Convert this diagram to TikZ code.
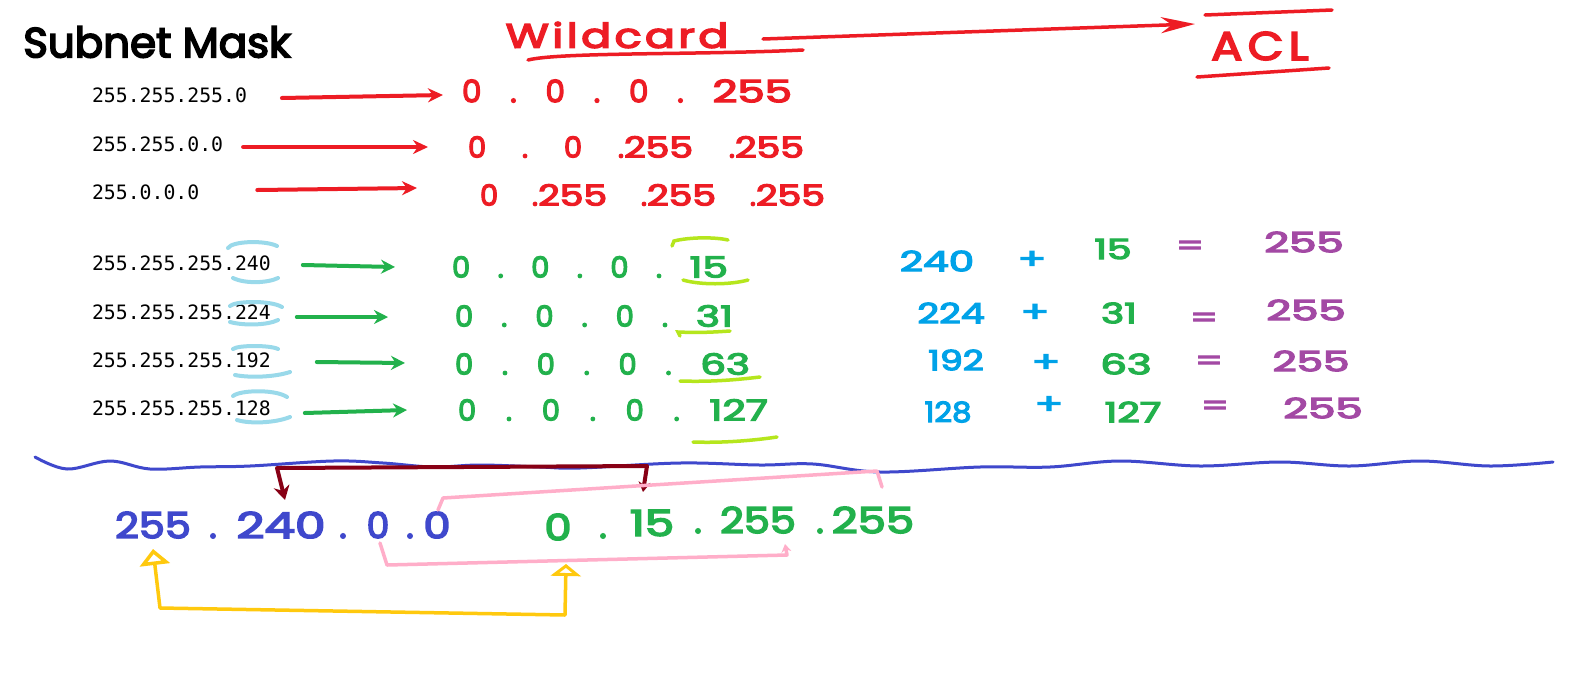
\documentclass[tikz,border=0pt]{standalone}
\usepackage{fontspec}
\usepackage{graphicx}
\newfontfamily\hand{Poppins}[FakeBold=4]
\newfontfamily\monof{DejaVu Sans Mono}
\usetikzlibrary{arrows.meta,calc}
\definecolor{pred}{HTML}{ED1C24}
\definecolor{pgreen}{HTML}{22B14C}
\definecolor{plime}{HTML}{B5E61D}
\definecolor{plblue}{HTML}{99D9EA}
\definecolor{pblue}{HTML}{00A2E8}
\definecolor{ppurple}{HTML}{A349A4}
\definecolor{pindigo}{HTML}{3F48CC}
\definecolor{pdred}{HTML}{880015}
\definecolor{ppink}{HTML}{FFAEC9}
\definecolor{pyellow}{HTML}{FFC90E}
\newcommand\hf[1]{\hand\fontsize{#1}{#1}\selectfont\frenchspacing}
\newcommand\hx[2]{\scalebox{#1}[1]{#2}}
\newcommand\spr[2]{\makebox[#1][s]{#2}}
\frenchspacing
\begin{document}
\begin{tikzpicture}[x=1pt,y=-1pt,
  every node/.style={inner sep=0pt,outer sep=0pt},
  mask/.style={anchor=west,text=black,font=\monof\fontsize{19.8}{20}\selectfont},
  hw/.style={font=\hf{#1}},
  row/.style={anchor=west},
  redarr/.style={draw=pred,line width=4pt,line cap=round,-{Stealth[length=15pt,width=14pt]}},
  grnarr/.style={draw=pgreen,line width=4pt,line cap=round,-{Stealth[length=14pt,width=14pt]}},
  redline/.style={draw=pred,line width=3.5pt,line cap=round},
  lbr/.style={draw=plblue,line width=4pt,line cap=round},
  lime/.style={draw=plime,line width=3.5pt,line cap=round},
  pinkl/.style={draw=ppink,line width=3.5pt,line cap=round,line join=round},
  eb/.style={hw=28,text=pblue},
  eg/.style={hw=28,text=pgreen},
  ep/.style={hw=28,text=ppurple}
]
\fill[white] (0,0) rectangle (1594,694);
\useasboundingbox (0,0) rectangle (1594,694);

% titles
\node[hw=42,text=black] (sm) at (157,42) {Subnet Mask};
\node[hw=34,text=pred] (wc) at (617,35) {\hx{1.3}{\addfontfeature{LetterSpace=8}Wildcard}};
\node[hw=40,text=pred] (acl) at (1260,46) {\hx{1.15}{\addfontfeature{LetterSpace=12}ACL}};
\draw[redline] (528,60) .. controls (560,52) and (700,55) .. (803,50);
\draw[draw=pred,line width=3.5pt,line cap=round,-{Stealth[length=34pt,width=16pt]}] ($(wc.center)+(146,4)$) -- ($(acl.center)+(-65,-22)$);
\draw[redline] (1205,15) -- (1332,10);
\draw[redline] (1197,77) -- (1329,68);

% masks
\node[mask] (m1) at (92,95) {255.255.255.0};
\node[mask] (m2) at (92,144) {255.255.0.0};
\node[mask] (m3) at (92,192) {255.0.0.0};
\node[mask] (m4) at (92,263) {255.255.255.240};
\node[mask] (m5) at (92,312) {255.255.255.224};
\node[mask] (m6) at (92,360) {255.255.255.192};
\node[mask] (m7) at (92,408) {255.255.255.128};

% wildcard rows (red)
\node[row,hw=31,text=pred] (w1) at (462,91) {\spr{330pt}{0 . 0 . 0 . \hx{1.4}{255}}};
\node[row,hw=29,text=pred] (w2) at (468,147) {\spr{336pt}{0 . 0 .\hx{1.3}{255} .\hx{1.3}{255}}};
\node[row,hw=29,text=pred] (w3) at (480,195) {\spr{345pt}{0 .\hx{1.3}{255} .\hx{1.3}{255} .\hx{1.3}{255}}};

% wildcard rows (green)
\node[row,hw=29,text=pgreen] (g4) at (452,267) {\spr{276pt}{0 . 0 . 0 . \hx{1.4}{15}}};
\node[row,hw=29,text=pgreen] (g5) at (455,316) {\spr{278pt}{0 . 0 . 0 . \hx{1.4}{31}}};
\node[row,hw=29,text=pgreen] (g6) at (455,364) {\spr{295pt}{0 . 0 . 0 . \hx{1.4}{63}}};
\node[row,hw=29,text=pgreen] (g7) at (458,410) {\spr{310pt}{0 . 0 . 0 . \hx{1.4}{127}}};

% arrows
\draw[redarr] ($(m1.east)+(35,3)$) -- ($(w1.west)+(-19,4)$);
\draw[redarr] ($(m2.east)+(20,3)$) -- ($(w2.west)+(-40,0)$);
\draw[redarr] ($(m3.east)+(58,-2)$) -- ($(w3.west)+(-63,-7)$);
\draw[grnarr] ($(m4.east)+(32,2)$) -- ($(g4.west)+(-57,0)$);
\draw[grnarr] ($(m5.east)+(26,5)$) -- ($(g5.west)+(-67,1)$);
\draw[grnarr] ($(m6.east)+(46,2)$) -- ($(g6.west)+(-50,-1)$);
\draw[grnarr] ($(m7.east)+(34,5)$) -- ($(g7.west)+(-51,0)$);

% light blue brackets
\draw[lbr] (228,248) .. controls (232,241) and (265,240) .. (277,246);
\draw[lbr] (233,278) .. controls (245,284) and (268,283) .. (278,278);
\draw[lbr] (230,306) .. controls (235,301) and (270,300) .. (282,307);
\draw[lbr] (230,322) .. controls (245,326) and (268,325) .. (278,320);
\draw[lbr] (233,349) .. controls (238,345) and (270,345) .. (278,349);
\draw[lbr] (235,375) .. controls (250,378) and (275,377) .. (290,372);
\draw[lbr] (233,396) .. controls (240,390) and (275,389) .. (287,397);
\draw[lbr] (237,420) .. controls (250,424) and (275,423) .. (290,417);

% lime brackets
\draw[lime] (672,246) -- (674,241) .. controls (690,237) and (715,237) .. (728,240);
\draw[lime] (683,280) .. controls (700,285) and (730,285) .. (748,280);
\draw[lime] (680,336) -- (678,332) .. controls (700,333) and (715,332) .. (730,331);
\draw[lime] (680,381) .. controls (710,382) and (735,380) .. (760,377);
\draw[lime] (693,442) .. controls (720,443) and (750,441) .. (777,437);

% equations
\node[eb] (e240) at (937,261) {\hx{1.45}{240}};
\node[eb] (p4) at (1032,260) {\hx{1.5}{+}};
\node[eg] (e15) at (1113,249) {\hx{1.4}{15}};
\node[ep] (q4) at (1190,248) {\hx{1.4}{=}};
\node[ep] (s4) at (1304,242) {\hx{1.55}{255}};

\node[eb] (e224) at (951,313) {\hx{1.35}{224}};
\node[eb] (p5) at (1035,313) {\hx{1.5}{+}};
\node[eg] (e31) at (1119,313) {\hx{1.4}{31}};
\node[ep] (q5) at (1204,320) {\hx{1.4}{=}};
\node[ep] (s5) at (1306,310) {\hx{1.55}{255}};

\node[eb] (e192) at (956,360) {\hx{1.3}{192}};
\node[eb] (p6) at (1046,363) {\hx{1.5}{+}};
\node[eg] (e63) at (1126,364) {\hx{1.5}{63}};
\node[ep] (q6) at (1209,363) {\hx{1.4}{=}};
\node[ep] (s6) at (1311,361) {\hx{1.5}{255}};

\node[eb] (e128) at (948,412) {\hx{1.1}{128}};
\node[eb] (p7) at (1049,405) {\hx{1.5}{+}};
\node[eg] (e127) at (1133,412) {\hx{1.4}{127}};
\node[ep] (q7) at (1215,408) {\hx{1.4}{=}};
\node[ep] (s7) at (1323,408) {\hx{1.55}{255}};

% wavy separator
\draw[pindigo,line width=3pt,line cap=round] plot[smooth,tension=0.6] coordinates {
 (35,457) (67,469) (110,461) (150,469) (200,467) (250,466) (333,461) (383,463)
 (433,467) (480,465) (540,467) (580,468) (680,463) (760,465) (813,464) (880,472)
 (980,467) (1050,467) (1120,461) (1200,466) (1280,462) (1350,466) (1420,461)
 (1490,466) (1553,462)};

% bottom blue
\node[hw=36,text=pindigo] (b255) at (153,525) {\hx{1.15}{255}};
\node[hw=36,text=pindigo,anchor=base] (bd1) at (213,538) {.};
\node[hw=36,text=pindigo] (b240) at (281,525) {\hx{1.35}{240}};
\node[hw=36,text=pindigo,anchor=base] (bd2) at (343,538) {.};
\node[hw=36,text=pindigo] (b0a) at (378,525) {0};
\node[hw=36,text=pindigo,anchor=base] (bd3) at (410,538) {.};
\node[hw=36,text=pindigo] (b0b) at (437,525) {\hx{1.2}{0}};

% bottom green
\node[hw=36,text=pgreen] (g0) at (558,527) {\hx{1.2}{0}};
\node[hw=36,text=pgreen,anchor=base] (gd1) at (603,538) {.};
\node[hw=36,text=pgreen] (g15) at (652,523) {\hx{1.3}{15}};
\node[hw=36,text=pgreen,anchor=base] (gd2) at (698,533) {.};
\node[hw=36,text=pgreen] (g255a) at (758,520) {\hx{1.15}{255}};
\node[hw=36,text=pgreen,anchor=base] (gd3) at (820,533) {.};
\node[hw=36,text=pgreen] (g255b) at (873,520) {\hx{1.25}{255}};

% connectors at the bottom
\draw[draw=pdred,line width=4pt,line join=round,{Stealth[length=14pt,width=16pt]}-{Stealth[length=10pt,width=12pt]}]
  ($(b240.center)+(4,-25)$) -- ($(b240.center)+(-4,-57)$) -- ($(g15.center)+(-5,-57)$) -- ($(g15.center)+(-9,-31)$);
\draw[pinkl] ($(b0b.center)+(1,-15)$) -- ($(b0b.center)+(6,-27)$) -- ($(g255b.center)+(4,-49)$) -- ($(g255b.center)+(9,-33)$);
\draw[pinkl,-{Stealth[length=8pt,width=10pt]}] ($(b0a.center)+(2,18)$) -- ($(b0a.center)+(9,40)$) -- ($(g255a.center)+(29,35)$) -- ($(g255a.center)+(27,24)$);
\draw[draw=pyellow,line width=3.5pt,line join=round,{Triangle[open,length=16pt,width=30pt]}-{Triangle[open,length=12pt,width=30pt]}]
  ($(b255.center)+(0,24)$) -- ($(b255.center)+(7,83)$) -- ($(g0.center)+(7,88)$) -- ($(g0.center)+(8,37)$);
\end{tikzpicture}
\end{document}
